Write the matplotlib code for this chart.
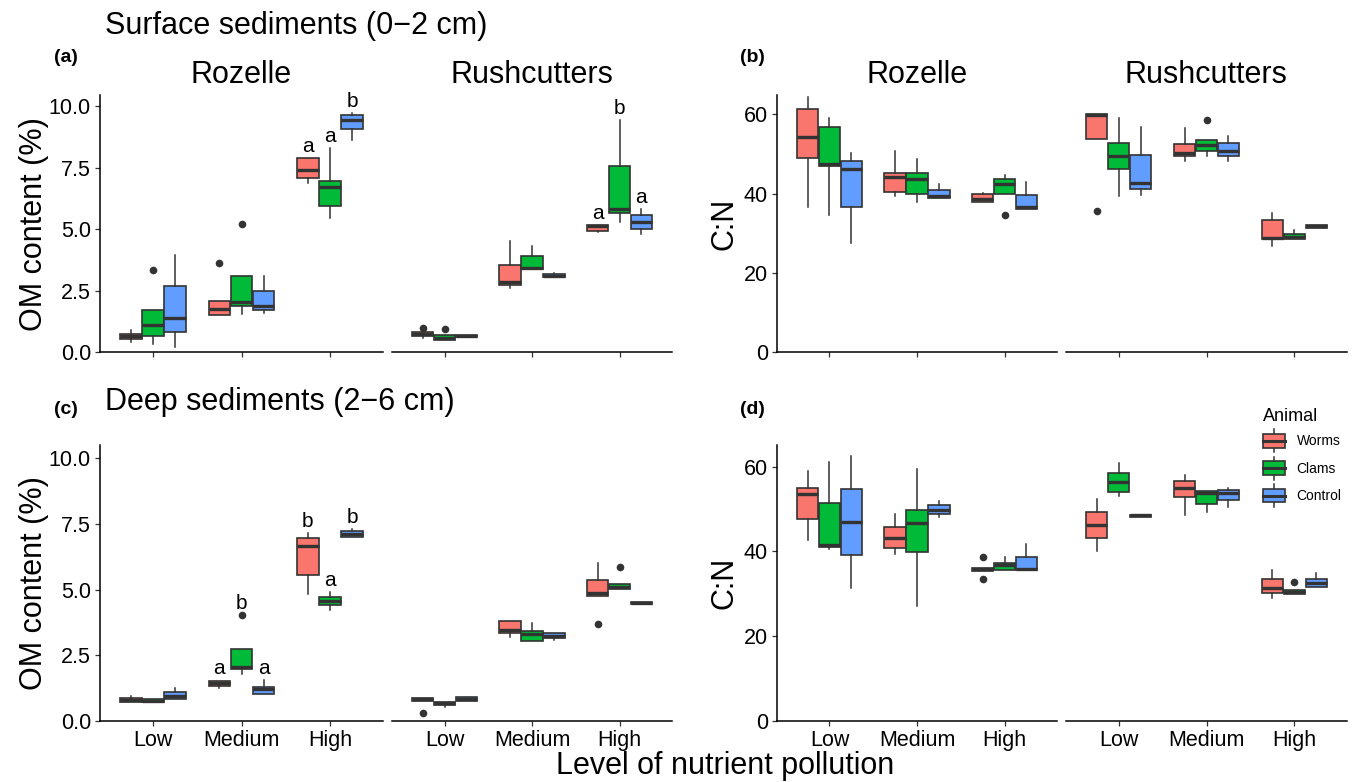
import matplotlib
matplotlib.use('Agg')
import matplotlib.pyplot as plt
from matplotlib.patches import Rectangle, Patch
from matplotlib.lines import Line2D
from matplotlib.legend_handler import HandlerBase

plt.rcParams['font.family'] = ['Liberation Sans', 'DejaVu Sans']

levels = ['Low', 'Medium', 'High']
animals = ['Worms', 'Clams', 'Control']
sites = ['Rozelle', 'Rushcutters']
colors = ['#F8766D', '#00BA38', '#619CFF']

# box summaries: [whisker low, q1, median, q3, whisker high]
# row order: Low (Worms, Clams, Control), Medium (...), High (...)
om_surf_roz = [
    [0.41, 0.54, 0.65, 0.75, 0.88],
    [0.34, 0.64, 1.09, 1.72, 1.72],
    [0.20, 0.80, 1.40, 2.67, 3.93],
    [1.52, 1.52, 1.75, 2.06, 2.06],
    [1.56, 1.86, 2.04, 3.11, 3.11],
    [1.60, 1.72, 1.86, 2.47, 3.09],
    [6.89, 7.08, 7.39, 7.90, 7.90],
    [5.45, 5.93, 6.69, 6.97, 8.28],
    [8.62, 9.05, 9.42, 9.63, 9.73],
]
om_surf_roz_out = {1: [3.35], 3: [3.62], 4: [5.21]}
om_surf_roz_let = ['', '', '', '', '', '', 'a', 'a', 'b']

om_surf_rush = [
    [0.58, 0.64, 0.72, 0.81, 0.81],
    [0.47, 0.47, 0.58, 0.68, 0.68],
    [0.60, 0.60, 0.66, 0.70, 0.70],
    [2.62, 2.74, 2.85, 3.53, 4.50],
    [3.37, 3.37, 3.42, 3.91, 4.30],
    [3.03, 3.03, 3.11, 3.19, 3.23],
    [4.86, 4.93, 5.12, 5.18, 5.18],
    [5.29, 5.67, 5.83, 7.56, 9.43],
    [4.79, 5.02, 5.29, 5.59, 5.83],
]
om_surf_rush_out = {0: [0.99], 1: [0.95]}
om_surf_rush_let = ['', '', '', '', '', '', 'a', 'b', 'a']

cn_surf_roz = [
    [36.7, 49.0, 54.4, 61.3, 64.3],
    [34.5, 46.9, 47.4, 56.9, 59.2],
    [27.4, 36.7, 46.3, 48.2, 50.3],
    [39.5, 40.4, 44.1, 45.1, 50.8],
    [37.9, 39.8, 43.7, 45.3, 48.8],
    [38.9, 38.9, 39.4, 40.9, 42.4],
    [38.0, 38.0, 38.7, 39.9, 40.1],
    [40.0, 40.0, 42.4, 43.6, 44.7],
    [36.2, 36.2, 36.5, 39.7, 42.9],
]
cn_surf_roz_out = {7: [34.5]}

cn_surf_rush = [
    [53.7, 53.7, 59.8, 60.0, 60.0],
    [39.4, 46.2, 49.6, 52.8, 59.0],
    [39.6, 41.1, 42.7, 49.8, 56.9],
    [48.3, 49.6, 50.3, 52.5, 56.5],
    [49.5, 50.7, 52.2, 53.5, 53.5],
    [48.3, 49.5, 50.8, 52.8, 54.5],
    [26.8, 28.5, 28.9, 33.3, 35.1],
    [28.5, 28.5, 29.1, 29.7, 30.8],
    [31.4, 31.4, 31.8, 32.1, 32.1],
]
cn_surf_rush_out = {0: [35.5], 4: [58.6]}

om_deep_roz = [
    [0.74, 0.74, 0.81, 0.89, 0.95],
    [0.71, 0.71, 0.77, 0.82, 0.82],
    [0.82, 0.82, 0.95, 1.09, 1.27],
    [1.24, 1.33, 1.43, 1.54, 1.54],
    [1.78, 1.98, 2.07, 2.74, 2.74],
    [1.02, 1.02, 1.21, 1.31, 1.56],
    [4.82, 5.56, 6.66, 6.98, 7.14],
    [4.23, 4.42, 4.58, 4.70, 4.89],
    [6.99, 6.99, 7.12, 7.21, 7.31],
]
om_deep_roz_out = {4: [4.02]}
om_deep_roz_let = ['', '', '', 'a', 'b', 'a', 'b', 'a', 'b']

om_deep_rush = [
    [0.76, 0.76, 0.82, 0.89, 0.89],
    [0.55, 0.61, 0.67, 0.74, 0.74],
    [0.77, 0.77, 0.85, 0.93, 0.93],
    [3.19, 3.34, 3.47, 3.82, 3.82],
    [3.05, 3.05, 3.31, 3.44, 3.74],
    [3.07, 3.17, 3.25, 3.36, 3.36],
    [4.77, 4.77, 4.87, 5.37, 6.00],
    [5.03, 5.03, 5.11, 5.20, 5.20],
    [4.44, 4.44, 4.49, 4.53, 4.53],
]
om_deep_rush_out = {0: [0.32], 6: [3.69], 7: [5.84]}

cn_deep_roz = [
    [42.7, 47.6, 53.5, 55.0, 59.0],
    [40.6, 41.0, 41.4, 51.4, 61.2],
    [31.4, 39.2, 47.0, 54.7, 62.5],
    [39.5, 40.9, 43.1, 45.8, 48.8],
    [27.2, 39.8, 46.8, 49.8, 59.4],
    [48.0, 48.8, 49.8, 50.9, 51.8],
    [35.3, 35.3, 35.8, 36.2, 36.2],
    [35.6, 35.6, 36.7, 37.3, 38.6],
    [35.6, 35.6, 35.8, 38.8, 41.7],
]
cn_deep_roz_out = {6: [38.8, 33.5]}

cn_deep_rush = [
    [40.1, 43.1, 46.2, 49.3, 52.3],
    [53.0, 54.1, 56.3, 58.6, 60.9],
    [48.2, 48.2, 48.5, 48.7, 48.7],
    [48.6, 52.9, 54.9, 56.6, 58.0],
    [49.4, 51.2, 53.8, 54.3, 54.3],
    [50.4, 52.1, 53.7, 54.5, 54.9],
    [29.1, 30.3, 31.3, 33.4, 35.6],
    [29.9, 29.9, 30.5, 30.9, 30.9],
    [31.5, 31.5, 32.6, 33.4, 35.0],
]
cn_deep_rush_out = {7: [32.7]}

W, H = 1356, 782
dark = '#333333'
offsets = [-0.25, 0.0, 0.25]


def px_axes(fig, x0, x1, y0, y1):
    # pixel box (top-left origin) -> figure axes
    return fig.add_axes([x0 / W, 1 - y1 / H, (x1 - x0) / W, (y1 - y0) / H])


def draw(ax, summary, outliers, letters, ylim, yticks, yfmt, first, bottom, pad):
    stats, pos = [], []
    for i, (lo, q1, med, q3, hi) in enumerate(summary):
        stats.append(dict(whislo=lo, q1=q1, med=med, q3=q3, whishi=hi,
                          fliers=outliers.get(i, [])))
        pos.append(i // 3 + 1 + offsets[i % 3])
    bp = ax.bxp(stats, positions=pos, widths=0.245, patch_artist=True,
                showcaps=False,
                boxprops=dict(edgecolor=dark, linewidth=1.2),
                medianprops=dict(color=dark, linewidth=2.4, solid_capstyle='butt'),
                whiskerprops=dict(color=dark, linewidth=1.1),
                flierprops=dict(marker='o', markerfacecolor=dark,
                                markeredgecolor='none', markersize=5.5))
    for i, patch in enumerate(bp['boxes']):
        patch.set_facecolor(colors[i % 3])
    if letters:
        for i, lab in enumerate(letters):
            if lab:
                top = max([summary[i][4]] + outliers.get(i, []))
                ax.text(pos[i], top + pad, lab, ha='center', va='bottom', fontsize=15)
    ax.set_xlim(0.4, 3.6)
    ax.set_ylim(*ylim)
    ax.set_xticks([1, 2, 3])
    ax.set_xticklabels(levels if bottom else [])
    ax.set_yticks(yticks)
    ax.set_yticklabels([yfmt.format(t) for t in yticks])
    for s in ['top', 'right']:
        ax.spines[s].set_visible(False)
    ax.spines['bottom'].set_linewidth(1.1)
    ax.spines['left'].set_linewidth(1.1)
    ax.tick_params(length=3.5, width=0.9, color=dark, labelsize=15.5,
                   labelcolor='black', pad=3)
    if not first:
        ax.spines['left'].set_visible(False)
        ax.tick_params(left=False, labelleft=False)


class BoxKey(HandlerBase):
    def create_artists(self, legend, orig_handle, xdescent, ydescent,
                       width, height, fontsize, trans):
        x0, y0 = -xdescent, -ydescent
        cx = x0 + width / 2
        col = orig_handle.get_facecolor()
        w1 = Line2D([cx, cx], [y0, y0 + height * 0.2], color=dark, lw=1.1, transform=trans)
        w2 = Line2D([cx, cx], [y0 + height * 0.8, y0 + height], color=dark, lw=1.1, transform=trans)
        rect = Rectangle((x0, y0 + height * 0.2), width, height * 0.6, facecolor=col,
                         edgecolor=dark, lw=1.2, transform=trans)
        med = Line2D([x0, x0 + width], [y0 + height / 2] * 2, color=dark, lw=2.2,
                     transform=trans)
        return [w1, w2, rect, med]


fig = plt.figure(figsize=(W / 100, H / 100), dpi=100)

om_ticks = [0, 2.5, 5, 7.5, 10]
cn_ticks = [0, 20, 40, 60]

# (a) surface OM
ax = px_axes(fig, 100, 383, 95, 352)
draw(ax, om_surf_roz, om_surf_roz_out, om_surf_roz_let, (0, 10.45), om_ticks, '{:.1f}', True, False, 0.08)
ax = px_axes(fig, 392, 672, 95, 352)
draw(ax, om_surf_rush, om_surf_rush_out, om_surf_rush_let, (0, 10.45), om_ticks, '{:.1f}', False, False, 0.08)
# (b) surface C:N
ax = px_axes(fig, 777, 1057, 95, 352)
draw(ax, cn_surf_roz, cn_surf_roz_out, None, (0, 64.9), cn_ticks, '{:.0f}', True, False, 0)
ax = px_axes(fig, 1066, 1347, 95, 352)
draw(ax, cn_surf_rush, cn_surf_rush_out, None, (0, 64.9), cn_ticks, '{:.0f}', False, False, 0)
# (c) deep OM
ax = px_axes(fig, 100, 383, 445, 721)
draw(ax, om_deep_roz, om_deep_roz_out, om_deep_roz_let, (0, 10.5), om_ticks, '{:.1f}', True, True, 0.08)
ax = px_axes(fig, 392, 672, 445, 721)
draw(ax, om_deep_rush, om_deep_rush_out, None, (0, 10.5), om_ticks, '{:.1f}', False, True, 0.08)
# (d) deep C:N
ax = px_axes(fig, 777, 1057, 445, 721)
draw(ax, cn_deep_roz, cn_deep_roz_out, None, (0, 65.1), cn_ticks, '{:.0f}', True, True, 0)
ax = px_axes(fig, 1066, 1347, 445, 721)
draw(ax, cn_deep_rush, cn_deep_rush_out, None, (0, 65.1), cn_ticks, '{:.0f}', False, True, 0)


def ftext(x, y, s, **kw):
    fig.text(x / W, 1 - y / H, s, **kw)


ftext(105, 26, 'Surface sediments (0\u22122 cm)', fontsize=22, va='center', ha='left')
ftext(105, 402, 'Deep sediments (2\u22126 cm)', fontsize=22, va='center', ha='left')
ftext(54, 57, '(a)', fontsize=14, fontweight='bold', va='center')
ftext(740, 57, '(b)', fontsize=14, fontweight='bold', va='center')
ftext(54, 410, '(c)', fontsize=14, fontweight='bold', va='center')
ftext(740, 410, '(d)', fontsize=14, fontweight='bold', va='center')
for cx, site in zip([241, 532, 917, 1206], sites * 2):
    ftext(cx, 75, site, fontsize=22, ha='center', va='center')
ftext(34, 224, 'OM content (%)', fontsize=22, rotation=90, ha='center', va='center')
ftext(34, 583, 'OM content (%)', fontsize=22, rotation=90, ha='center', va='center')
ftext(724, 224, 'C:N', fontsize=22, rotation=90, ha='center', va='center')
ftext(724, 583, 'C:N', fontsize=22, rotation=90, ha='center', va='center')
ftext(725, 766, 'Level of nutrient pollution', fontsize=22, ha='center', va='center')

handles = [Patch(facecolor=c) for c in colors]
fig.legend(handles, animals, title='Animal', loc='upper left',
           bbox_to_anchor=(1256 / W, 1 - 401 / H), frameon=False,
           handler_map={Patch: BoxKey()}, fontsize=10, title_fontsize=13,
           alignment='left', borderpad=0, handlelength=1.58, handleheight=2.18,
           handletextpad=0.85, labelspacing=0.31)

fig.savefig('out.png', dpi=100)
